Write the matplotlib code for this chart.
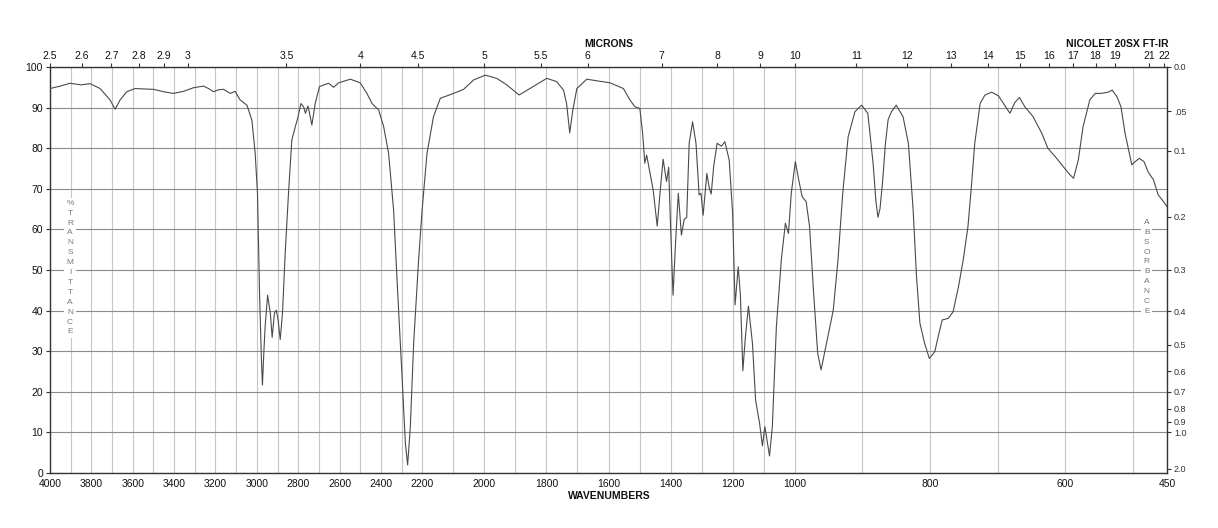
import numpy as np
import matplotlib
matplotlib.use("Agg")
import matplotlib.pyplot as plt

plt.rcParams['font.family'] = ['Liberation Sans', 'DejaVu Sans']

# spectrum: wavenumber (cm-1) and % transmittance
wavenumbers = [
    4000, 3950, 3903, 3850, 3806, 3758, 3710, 3685, 3661, 3629, 3589, 3550, 3500, 3450,
    3403, 3355, 3306, 3258, 3230, 3210, 3185, 3161, 3129, 3105, 3081, 3048, 3024, 3008,
    2997, 2987, 2978, 2973, 2966, 2960, 2948, 2935, 2926, 2915, 2906, 2897, 2887, 2876,
    2863, 2847, 2831, 2814, 2803, 2787, 2774, 2765, 2753, 2743, 2734, 2718, 2697, 2653,
    2629, 2605, 2548, 2500, 2468, 2443, 2411, 2387, 2363, 2339, 2319, 2298, 2282, 2271,
    2258, 2242, 2218, 2201, 2185, 2164, 2142, 2099, 2067, 2035, 1997, 1960, 1928, 1888,
    1853, 1799, 1767, 1745, 1735, 1725, 1715, 1702, 1670, 1638, 1595, 1552, 1531, 1515,
    1499, 1490, 1483, 1477, 1466, 1456, 1443, 1434, 1424, 1413, 1406, 1400, 1392, 1384,
    1375, 1365, 1356, 1348, 1340, 1329, 1318, 1308, 1302, 1295, 1283, 1276, 1269, 1261,
    1250, 1236, 1225, 1211, 1200, 1192, 1182, 1175, 1167, 1159, 1149, 1136, 1126, 1113,
    1104, 1096, 1088, 1081, 1072, 1059, 1043, 1030, 1020, 1011, 999, 994, 989, 983,
    978, 972, 966, 961, 953, 943, 936, 929, 921, 911, 901, 892, 889, 884, 880, 877,
    874, 870, 866, 862, 857, 850, 840, 832, 825, 820, 815, 808, 801, 793, 788, 782,
    773, 766, 758, 751, 744, 739, 734, 726, 719, 709, 699, 690, 682, 675, 668, 660,
    648, 635, 626, 613, 603, 593, 588, 581, 574, 564, 556, 547, 537, 531, 524, 518,
    512, 502, 497, 491, 484, 478, 470, 463, 455, 450,
]
transmittance = [
    94.7, 95.3, 96.0, 95.6, 95.9, 94.7, 91.9, 89.6, 91.9, 93.9, 94.7, 94.6, 94.5, 93.9,
    93.5, 94.0, 94.9, 95.3, 94.6, 93.9, 94.4, 94.5, 93.5, 94.0, 91.9, 90.6, 86.9, 78.7,
    68.9, 44.3, 28.0, 21.7, 30.0, 36.0, 43.8, 39.4, 33.4, 39.4, 40.1, 37.6, 32.9, 39.4,
    54.1, 68.9, 82.0, 85.3, 87.3, 91.0, 90.2, 88.6, 90.4, 88.0, 85.7, 91.0, 95.2, 96.0,
    95.0, 96.1, 97.0, 96.1, 93.5, 91.0, 89.4, 85.3, 78.7, 64.8, 44.3, 23.7, 7.3, 2.0,
    11.4, 31.9, 52.5, 64.8, 78.7, 87.8, 92.3, 93.5, 94.5, 96.8, 98.0, 97.2, 95.6, 93.1,
    94.7, 97.2, 96.4, 94.3, 91.0, 83.8, 89.4, 94.7, 97.0, 96.6, 96.1, 94.7, 91.9, 90.2,
    89.8, 83.7, 76.3, 78.3, 73.8, 69.7, 60.8, 68.9, 77.3, 71.8, 75.3, 60.7, 43.8, 56.6,
    68.9, 58.6, 62.5, 62.9, 81.2, 86.5, 81.2, 68.5, 68.9, 63.5, 73.8, 70.5, 68.7, 75.5,
    81.2, 80.5, 81.6, 77.1, 64.0, 41.4, 50.8, 44.0, 25.2, 33.3, 41.1, 31.9, 18.0, 12.2,
    6.7, 11.4, 7.5, 4.2, 11.4, 36.0, 52.5, 61.5, 59.0, 68.9, 76.7, 72.2, 68.1, 66.8,
    60.7, 44.3, 29.5, 25.4, 31.9, 40.1, 52.5, 68.9, 82.8, 89.0, 90.6, 88.6, 84.0, 76.0,
    67.0, 63.0, 65.0, 72.0, 81.0, 87.0, 89.0, 90.6, 87.8, 81.2, 64.8, 48.4, 36.9, 31.9,
    28.2, 29.9, 33.6, 37.7, 38.1, 39.7, 45.9, 52.5, 60.7, 70.5, 81.2, 91.0, 93.1, 93.8,
    92.9, 90.6, 88.6, 91.2, 92.5, 90.2, 87.8, 83.7, 80.0, 77.5, 75.4, 73.4, 72.6, 77.1,
    85.3, 91.9, 93.5, 93.5, 93.8, 94.3, 92.7, 90.2, 83.7, 75.9, 76.7, 77.5, 76.7, 74.2,
    72.2, 68.5, 66.8, 65.6,
]

wn_labels = [4000, 3800, 3600, 3400, 3200, 3000, 2800, 2600, 2400, 2200, 2000,
             1800, 1600, 1400, 1200, 1000, 800, 600, 450]
micron_labels = ['2.5', '2.6', '2.7', '2.8', '2.9', '3', '3.5', '4', '4.5', '5', '5.5',
                 '6', '7', '8', '9', '10', '11', '12', '13', '14', '15', '16', '17',
                 '18', '19', '21', '22']
absorb_labels = ['0.0', '.05', '0.1', '0.2', '0.3', '0.4', '0.5', '0.6', '0.7',
                 '0.8', '0.9', '1.0', '2.0']


# the instrument chart has three equal-width sections: 4000-2200, 2200-1000, 1000-450
def wn_to_pos(w):
    w = np.asarray(w, float)
    return np.where(w >= 2200, 2 + (w - 2200) / 1800,
                    np.where(w >= 1000, 1 + (w - 1000) / 1200, (w - 450) / 550))


def pos_to_wn(p):
    p = np.asarray(p, float)
    return np.where(p >= 2, 2200 + (p - 2) * 1800,
                    np.where(p >= 1, 1000 + (p - 1) * 1200, 450 + p * 550))


W, H = 1218, 528
fig = plt.figure(figsize=(W / 100, H / 100), dpi=100)
ax = fig.add_axes([50 / W, 55 / H, 1117 / W, 406 / H])

ax.set_xscale('function', functions=(wn_to_pos, pos_to_wn))
ax.set_xlim(4000, 450)
ax.set_ylim(0, 100)

ax.plot(wavenumbers, transmittance, color='#4a4a4a', lw=0.8, zorder=3)

ax.set_xticks(wn_labels)
ax.set_xticklabels([str(v) for v in wn_labels])
ax.set_xticks(np.arange(500, 4000, 100), minor=True)
ax.tick_params(axis='x', which='both', length=0, pad=4, labelsize=7.5, colors='#111')
ax.grid(True, axis='x', which='both', color='#c6c6c6', lw=0.8)

ax.set_yticks(np.arange(0, 101, 10))
ax.tick_params(axis='y', length=3, pad=2, labelsize=7.5, colors='#111', color='#333')
ax.grid(True, axis='y', which='major', color='#8c8c8c', lw=0.8)
ax.set_axisbelow(True)

for s in ax.spines.values():
    s.set_color('#333')
    s.set_linewidth(1.0)

# microns on top
ax_t = ax.twiny()
ax_t.set_xscale('function', functions=(wn_to_pos, pos_to_wn))
ax_t.set_xlim(4000, 450)
ax_t.set_xticks([10000 / float(m) for m in micron_labels])
ax_t.set_xticklabels(micron_labels)
ax_t.tick_params(axis='x', length=3, pad=1.5, labelsize=7.5, colors='#111', color='#333')
for s in ax_t.spines.values():
    s.set_visible(False)

# absorbance on the right
ax_r = ax.twinx()
ax_r.set_ylim(0, 100)
ax_r.set_yticks([100 * 10 ** (-float(a)) for a in absorb_labels])
ax_r.set_yticklabels(absorb_labels)
ax_r.tick_params(axis='y', length=3, pad=2, labelsize=6.5, colors='#333', color='#333')
for s in ax_r.spines.values():
    s.set_visible(False)

box = dict(facecolor='white', edgecolor='none', pad=1.5)
ax.text(3903, 67.3, '\n'.join('%TRANSMITTANCE'), ha='center', va='top', fontsize=6,
        color='#777', linespacing=1.58, bbox=box, zorder=4)
ax.text(480, 62.6, '\n'.join('ABSORBANCE'), ha='center', va='top', fontsize=6,
        color='#777', linespacing=1.58, bbox=box, zorder=4)

fig.text(609 / W, 1 - 44 / H, 'MICRONS', ha='center', va='center', fontsize=7.5,
         fontweight='bold', color='#111')
fig.text(1168 / W, 1 - 44 / H, 'NICOLET 20SX FT-IR', ha='right', va='center',
         fontsize=7.5, fontweight='bold', color='#111')
fig.text(609 / W, 1 - 496 / H, 'WAVENUMBERS', ha='center', va='center', fontsize=7.5,
         fontweight='bold', color='#111')

fig.savefig('out.png', dpi=100)
